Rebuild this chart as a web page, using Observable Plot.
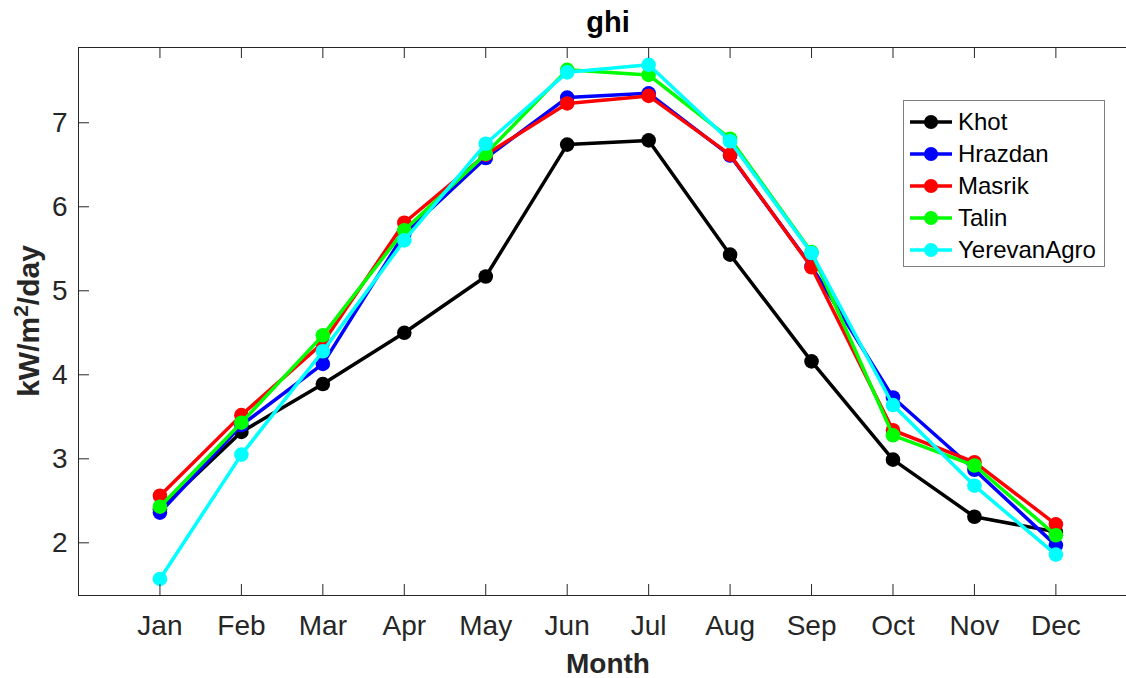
<!DOCTYPE html>
<html>
<head>
<meta charset="utf-8">
<script src="https://cdn.jsdelivr.net/npm/d3@7"></script>
<script src="https://cdn.jsdelivr.net/npm/@observablehq/plot@0.6"></script>
<style>
  html, body { margin: 0; padding: 0; background: #fff; }
  #chart { width: 1126px; height: 678px; }
</style>
</head>
<body>
<div id="chart"></div>
<script>
const months = ["Jan","Feb","Mar","Apr","May","Jun","Jul","Aug","Sep","Oct","Nov","Dec"];
const monthIdx = [1,2,3,4,5,6,7,8,9,10,11,12];
const yTicks = [2,3,4,5,6,7];

const khot    = [2.40, 3.32, 3.89, 4.50, 5.17, 6.74, 6.79, 5.43, 4.16, 2.99, 2.31, 2.13];
const hrazdan = [2.36, 3.40, 4.13, 5.68, 6.58, 7.30, 7.35, 6.61, 5.29, 3.73, 2.87, 1.97];
const masrik  = [2.56, 3.52, 4.38, 5.81, 6.62, 7.23, 7.32, 6.62, 5.28, 3.34, 2.96, 2.22];
const talin   = [2.43, 3.43, 4.47, 5.72, 6.63, 7.63, 7.57, 6.81, 5.46, 3.28, 2.92, 2.09];
const yerevan = [1.57, 3.05, 4.28, 5.60, 6.75, 7.60, 7.69, 6.78, 5.45, 3.64, 2.68, 1.86];

const seriesNames = ["Khot","Hrazdan","Masrik","Talin","YerevanAgro"];
const seriesValues = [khot, hrazdan, masrik, talin, yerevan];
const seriesColors = ["#000000","#0000ff","#ff0000","#00ff00","#00ffff"];

const xDomain = [0, 12.867];
const yDomain = [1.373, 7.896];
const axisColor = "#262626";
const font = "'Liberation Sans', Arial, Helvetica, sans-serif";

// tick lengths in data units (inward ticks)
const xTickLen = 11 / 84;
const yTickLen = 11 / 81.45;

const seriesMarks = [];
seriesValues.forEach((vals, i) => {
  seriesMarks.push(Plot.lineY(vals, {x: monthIdx, stroke: seriesColors[i], strokeWidth: 3.5}));
  seriesMarks.push(Plot.dotY(vals, {x: monthIdx, r: 7.3, fill: seriesColors[i], stroke: "none"}));
});

const chart = Plot.plot({
  width: 1126,
  height: 678,
  marginLeft: 78,
  marginRight: 0,
  marginTop: 47,
  marginBottom: 83,
  style: {fontFamily: font, fontSize: "28px", color: axisColor, background: "#fff", overflow: "visible"},
  x: {domain: xDomain},
  y: {domain: yDomain},
  marks: [
    ...seriesMarks,
    // frame lines
    Plot.ruleX([xDomain[0]], {y1: yDomain[0], y2: yDomain[1], stroke: axisColor, strokeWidth: 1}),
    Plot.ruleY([yDomain[0], yDomain[1]], {stroke: axisColor, strokeWidth: 1}),
    // inward ticks
    Plot.ruleX(monthIdx, {x: d => d, y1: yDomain[0], y2: yDomain[0] + xTickLen, stroke: axisColor}),
    Plot.ruleX(monthIdx, {x: d => d, y1: yDomain[1], y2: yDomain[1] - xTickLen, stroke: axisColor}),
    Plot.ruleY(yTicks, {y: d => d, x1: xDomain[0], x2: xDomain[0] + yTickLen, stroke: axisColor}),
    // axis labels
    Plot.axisX(monthIdx, {tickSize: 0, tickPadding: 20, tickFormat: d => months[d - 1], label: null, fill: axisColor}),
    Plot.axisY(yTicks, {tickSize: 0, tickPadding: 11, tickFormat: d => String(d), label: null, fill: axisColor})
  ]
});

document.getElementById("chart").appendChild(chart);

const svg = d3.select(chart);

// Title
svg.append("text")
  .attr("x", 608).attr("y", 32)
  .attr("text-anchor", "middle")
  .style("font-family", font).style("font-size", "29px").style("font-weight", "bold")
  .attr("fill", "#000")
  .text("ghi");

// X label
svg.append("text")
  .attr("x", 608).attr("y", 673)
  .attr("text-anchor", "middle")
  .style("font-family", font).style("font-size", "28px").style("font-weight", "bold")
  .attr("fill", axisColor)
  .text("Month");

// Y label with superscript
const yl = svg.append("text")
  .attr("transform", "translate(39,321) rotate(-90)")
  .attr("text-anchor", "middle")
  .style("font-family", font).style("font-size", "30px").style("font-weight", "bold")
  .attr("fill", axisColor);
yl.append("tspan").text("kW/m");
yl.append("tspan").attr("dy", -11).style("font-size", "21px").text("2");
yl.append("tspan").attr("dy", 11).text("/day");

// Legend
const lg = svg.append("g").attr("transform", "translate(903,100)");
lg.append("rect").attr("x", 0.5).attr("y", 0.5).attr("width", 201).attr("height", 166)
  .attr("fill", "#fff").attr("stroke", "#808080").attr("stroke-width", 1);
seriesNames.forEach((name, i) => {
  const cy = 22 + i * 32;
  lg.append("line").attr("x1", 7).attr("x2", 49).attr("y1", cy).attr("y2", cy)
    .attr("stroke", seriesColors[i]).attr("stroke-width", 3.5);
  lg.append("circle").attr("cx", 28).attr("cy", cy).attr("r", 7).attr("fill", seriesColors[i]);
  lg.append("text").attr("x", 55).attr("y", cy + 8)
    .attr("text-anchor", "start")
    .style("font-family", font).style("font-size", "24px").attr("fill", "#000")
    .text(name);
});
</script>
</body>
</html>
